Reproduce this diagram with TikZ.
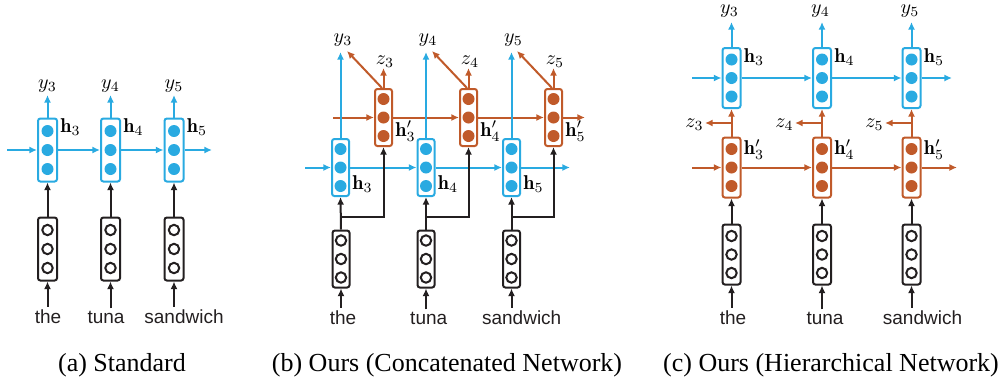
\documentclass[tikz,border=0pt]{standalone}
\usepackage{amsmath}
\usepackage{fontspec}
\newfontfamily\capfont{Liberation Serif}
\newfontfamily\wordfont{Liberation Sans}
\usetikzlibrary{arrows.meta,calc}
\definecolor{cblue}{RGB}{41,170,225}
\definecolor{corange}{RGB}{192,90,42}
\definecolor{cblack}{RGB}{35,31,32}
\def\ch{30pt}\def\cs{18.5}\def\cw{9pt}
\begin{document}
\begin{tikzpicture}[x=0.5pt,y=-0.5pt,
  cellbox/.style={rounded corners=1.2pt, line width=1pt, minimum width=\cw, minimum height=\ch, inner sep=0pt},
  bcell/.pic={
    \node[cellbox, draw=cblue] (-b) at (0,0) {};
    \foreach \yy in {-1,0,1} \fill[cblue] (0,\yy*\cs) circle[radius=3pt];
  },
  gcell/.pic={
    \node[cellbox, draw=corange] (-b) at (0,0) {};
    \foreach \yy in {-1,0,1} \fill[corange] (0,\yy*\cs) circle[radius=3pt];
  },
  icell/.pic={
    \node[cellbox, draw=cblack] (-b) at (0,0) {};
    \foreach \yy in {-1,0,1} \draw[cblack, line width=1pt] (0,\yy*\cs) circle[radius=2.6pt];
  },
  arr/.style={-{Latex[length=3.8pt,width=3.5pt]}, line width=1pt},
  lab/.style={inner sep=0pt, font=\fontsize{10}{12}\selectfont},
  word/.style={font=\wordfont\fontsize{9.5}{11}\selectfont, inner sep=1pt, anchor=base, text=cblack},
  captext/.style={font=\capfont\fontsize{13}{15}\selectfont, anchor=base, inner sep=0pt}
]
\useasboundingbox (0,0) rectangle (1004,381);

% ---------------- (a) Standard ----------------
\begin{scope}
\def\ch{31.5pt}\def\cs{19}\def\cw{9.5pt}
\pic (ah3) at (47.5,150) {bcell};
\pic (ah4) at (110.5,150) {bcell};
\pic (ah5) at (174,150) {bcell};
\pic (ax3) at (47.5,249) {icell};
\pic (ax4) at (110.5,249) {icell};
\pic (ax5) at (174,249) {icell};
\node[word] (aw3) at (48,323) {the};
\node[word] (aw4) at (106,323) {tuna};
\node[word] (aw5) at (184,323) {sandwich};
\node[lab, anchor=south] (ay3) at (47.5,93) {$y_3$};
\node[lab, anchor=south] (ay4) at (110.5,93) {$y_4$};
\node[lab, anchor=south] (ay5) at (174,93) {$y_5$};
\node[lab, anchor=west] at ($(ah3-b.north east)+(2,10)$) {$\mathbf{h}_3$};
\node[lab, anchor=west] at ($(ah4-b.north east)+(2,10)$) {$\mathbf{h}_4$};
\node[lab, anchor=west] at ($(ah5-b.north east)+(2,10)$) {$\mathbf{h}_5$};
\coordinate (ain) at (7,150);
\coordinate (aout) at (212,150);
\draw[arr,cblue] (ain) -- (ah3-b.west);
\draw[arr,cblue] (ah3-b.east) -- (ah4-b.west);
\draw[arr,cblue] (ah4-b.east) -- (ah5-b.west);
\draw[arr,cblue] (ah5-b.east) -- (aout);
\foreach \i in {3,4,5}{
  \draw[arr,cblue,shorten >=1pt] (ah\i-b.north) -- (ah\i-b.north |- ay\i.south);
  \draw[arr,cblack] (ax\i-b.north) -- (ah\i-b.south);
  \draw[arr,cblack] (ax\i-b.south |- aw\i.north) -- (ax\i-b.south);
}
\end{scope}

% ---------------- (b) Concatenated ----------------
\begin{scope}
\def\ch{28.5pt}\def\cs{18.5}\def\cw{8.5pt}
\pic (bh3) at (340.5,167.5) {bcell};
\pic (bh4) at (426,167.5) {bcell};
\pic (bh5) at (511.5,167.5) {bcell};
\pic (bg3) at (383.5,117.5) {gcell};
\pic (bg4) at (468.5,117.5) {gcell};
\pic (bg5) at (553.5,117.5) {gcell};
\pic (bx3) at (341,259) {icell};
\pic (bx4) at (426,259) {icell};
\pic (bx5) at (511.5,259) {icell};
\node[word] (bw3) at (343,324) {the};
\node[word] (bw4) at (428.7,324) {tuna};
\node[word] (bw5) at (521.7,324) {sandwich};
\node[lab, anchor=south] (by3) at (343,47) {$y_3$};
\node[lab, anchor=south] (by4) at (428,47) {$y_4$};
\node[lab, anchor=south] (by5) at (513.5,47) {$y_5$};
\node[lab, anchor=south] (bz3) at (385,68) {$z_3$};
\node[lab, anchor=south] (bz4) at (470,68) {$z_4$};
\node[lab, anchor=south] (bz5) at (555,68) {$z_5$};
\node[lab, anchor=west] at ($(bh3-b.south east)+(2,-13)$) {$\mathbf{h}_3$};
\node[lab, anchor=west] at ($(bh4-b.south east)+(2,-13)$) {$\mathbf{h}_4$};
\node[lab, anchor=west] at ($(bh5-b.south east)+(2,-13)$) {$\mathbf{h}_5$};
\node[lab, anchor=west] at ($(bg3-b.south east)+(2,-16)$) {$\mathbf{h}'_3$};
\node[lab, anchor=west] at ($(bg4-b.south east)+(2,-16)$) {$\mathbf{h}'_4$};
\node[lab, anchor=west] at ($(bg5-b.south east)+(2,-16)$) {$\mathbf{h}'_5$};
\coordinate (bin) at (305,167.5);
\coordinate (bout) at (570,167.5);
\coordinate (gin) at (333,117.5);
\coordinate (gout) at (585,117.5);
\draw[arr,cblue] (bin) -- (bh3-b.west);
\draw[arr,cblue] (bh3-b.east) -- (bh4-b.west);
\draw[arr,cblue] (bh4-b.east) -- (bh5-b.west);
\draw[arr,cblue] (bh5-b.east) -- (bout);
\draw[arr,corange] (gin) -- (bg3-b.west);
\draw[arr,corange] (bg3-b.east) -- (bg4-b.west);
\draw[arr,corange] (bg4-b.east) -- (bg5-b.west);
\draw[arr,corange] (bg5-b.east) -- (gout);
\foreach \i in {3,4,5}{
  \draw[arr,cblue,shorten >=2.5pt] (bh\i-b.north) -- (bh\i-b.north |- by\i.south);
  \draw[arr,corange] (bg\i-b.north) -- (bg\i-b.north |- bz\i.south);
  \draw[arr,corange] ($(bg\i-b.north)+(-1.5,0)$) -- ($(bg\i-b.north)+(-36.5,-37)$);
  \draw[arr,cblack] (bx\i-b.north) -- (bh\i-b.south);
  \draw[arr,cblack] ($(bx\i-b.north)+(0,-13)$) -| (bg\i-b.south);
  \draw[arr,cblack] (bx\i-b.south |- bw\i.north) -- (bx\i-b.south);
}
\end{scope}

% ---------------- (c) Hierarchical ----------------
\begin{scope}
\def\ch{30pt}\def\cs{18.5}\def\cw{9pt}
\pic (ch3) at (731.5,78) {bcell};
\pic (ch4) at (822,78) {bcell};
\pic (ch5) at (911.5,78) {bcell};
\pic (cg3) at (731.5,167.5) {gcell};
\pic (cg4) at (822,167.5) {gcell};
\pic (cg5) at (911.5,167.5) {gcell};
\pic (cx3) at (731.5,254.5) {icell};
\pic (cx4) at (822,254.5) {icell};
\pic (cx5) at (911.5,254.5) {icell};
\node[word] (cw3) at (733,324) {the};
\node[word] (cw4) at (825,324) {tuna};
\node[word] (cw5) at (922.5,324) {sandwich};
\node[lab, anchor=south] (cy3) at (729.5,18) {$y_3$};
\node[lab, anchor=south] (cy4) at (820.5,18) {$y_4$};
\node[lab, anchor=south] (cy5) at (910,18) {$y_5$};
\node[lab, anchor=west] at ($(ch3-b.north east)+(2,10)$) {$\mathbf{h}_3$};
\node[lab, anchor=west] at ($(ch4-b.north east)+(2,10)$) {$\mathbf{h}_4$};
\node[lab, anchor=west] at ($(ch5-b.north east)+(2,10)$) {$\mathbf{h}_5$};
\node[lab, anchor=west] at ($(cg3-b.north east)+(2,13)$) {$\mathbf{h}'_3$};
\node[lab, anchor=west] at ($(cg4-b.north east)+(2,13)$) {$\mathbf{h}'_4$};
\node[lab, anchor=west] at ($(cg5-b.north east)+(2,13)$) {$\mathbf{h}'_5$};
\coordinate (cz3t) at (705,123);
\coordinate (cz4t) at (795,123);
\coordinate (cz5t) at (885,123);
\node[lab, anchor=east] (cz3) at ($(cz3t)+(-1,1.5)$) {$z_3$};
\node[lab, anchor=east] (cz4) at ($(cz4t)+(-1,1.5)$) {$z_4$};
\node[lab, anchor=east] (cz5) at ($(cz5t)+(-1,1.5)$) {$z_5$};
\coordinate (cin) at (692,78);
\coordinate (cout) at (952,78);
\coordinate (dgin) at (692,167.5);
\coordinate (dgout) at (957,167.5);
\draw[arr,cblue] (cin) -- (ch3-b.west);
\draw[arr,cblue] (ch3-b.east) -- (ch4-b.west);
\draw[arr,cblue] (ch4-b.east) -- (ch5-b.west);
\draw[arr,cblue] (ch5-b.east) -- (cout);
\draw[arr,corange] (dgin) -- (cg3-b.west);
\draw[arr,corange] (cg3-b.east) -- (cg4-b.west);
\draw[arr,corange] (cg4-b.east) -- (cg5-b.west);
\draw[arr,corange] (cg5-b.east) -- (dgout);
\foreach \i in {3,4,5}{
  \draw[arr,cblue,shorten >=2pt] (ch\i-b.north) -- (ch\i-b.north |- cy\i.south);
  \draw[arr,corange] (cg\i-b.north) -- (ch\i-b.south);
  \draw[arr,corange] (cg\i-b.north |- cz\i t) -- (cz\i t);
  \draw[arr,cblack] (cx\i-b.north) -- (cg\i-b.south);
  \draw[arr,cblack] (cx\i-b.south |- cw\i.north) -- (cx\i-b.south);
}
\end{scope}

% ---------------- captions ----------------
\node[captext] (capa) at (122,371) {(a) Standard};
\node[captext] (capb) at (447,371) {(b) Ours (Concatenated Network)};
\node[captext] (capc) at (831,371) {(c) Ours (Hierarchical Network)};
\end{tikzpicture}
\end{document}
